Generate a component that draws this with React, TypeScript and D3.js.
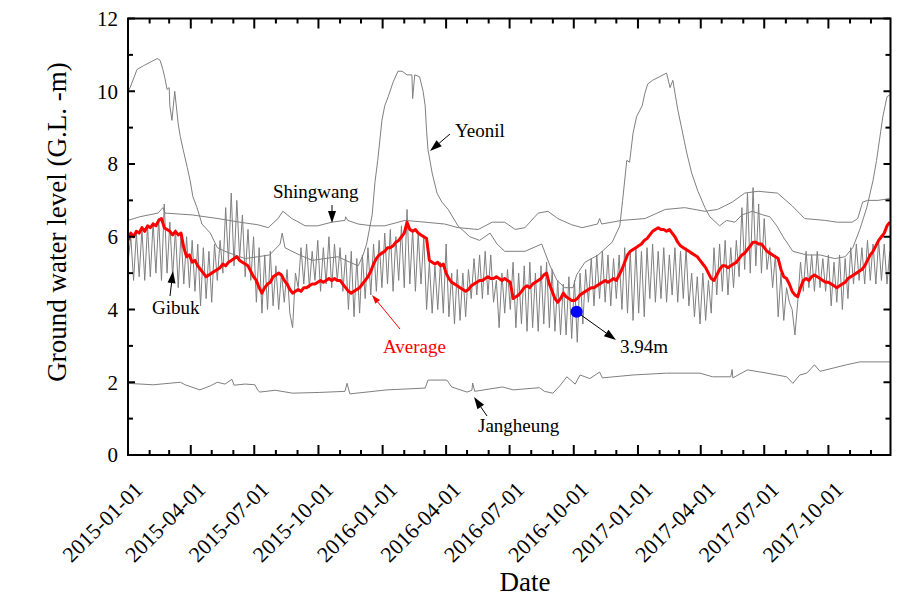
import React from 'react';
import * as d3 from 'd3';

// ---- data (day offsets are days since 2015-01-01) ----
const START = new Date(2015, 0, 1);
const END = new Date(2017, 11, 29);

const yTickValues = [0, 2, 4, 6, 8, 10, 12];

// Gibuk: one reading every 4 days from 2015-01-01
const gibukStep = 4;
const gibukValues = [
  5.3, 6.0, 4.8, 6.1, 4.9, 6.2, 4.8, 6.3, 4.9, 6.4,
  5.0, 6.5, 4.8, 6.9, 5.0, 6.4, 4.9, 6.2, 4.6, 6.1,
  4.7, 6.0, 4.6, 5.9, 4.5, 5.8, 4.1, 5.7, 4.3, 5.6,
  4.2, 5.8, 4.8, 5.9, 5.0, 6.8, 5.3, 7.2, 5.2, 7.0,
  5.4, 6.6, 4.9, 6.2, 4.8, 6.0, 4.2, 5.7, 3.9, 5.5,
  4.0, 5.6, 4.1, 5.2, 4.0, 5.0, 4.2, 5.1, 3.9, 3.5,
  5.0, 4.6, 5.7, 4.7, 5.8, 4.6, 5.6, 4.8, 5.9, 4.5,
  5.7, 4.7, 6.0, 4.6, 5.8, 4.8, 5.7, 4.5, 5.5, 4.0,
  5.6, 3.8, 5.4, 3.9, 5.5, 4.3, 5.7, 4.4, 5.8, 4.5,
  5.9, 4.6, 6.1, 4.7, 6.2, 4.5, 6.0, 4.8, 6.3, 4.6,
  6.75, 4.7, 6.2, 4.5, 6.1, 4.7, 6.0, 4.0, 5.3, 3.9,
  5.2, 4.0, 5.3, 3.9, 5.8, 3.8, 5.0, 3.6, 5.1, 3.7,
  5.0, 3.8, 5.1, 4.3, 5.4, 4.4, 5.5, 4.3, 5.6, 4.4,
  5.5, 4.2, 4.8, 3.5, 5.0, 3.9, 5.1, 4.0, 5.3, 3.5,
  5.0, 3.6, 5.2, 3.4, 5.3, 3.5, 5.0, 3.4, 5.2, 3.6,
  5.3, 3.5, 5.1, 3.4, 4.8, 3.3, 4.7, 3.3, 4.9, 3.2,
  4.8, 3.1, 5.0, 3.6, 5.1, 4.2, 5.4, 4.1, 5.5, 4.3,
  5.6, 4.2, 5.5, 4.1, 5.4, 4.3, 5.5, 4.0, 5.7, 3.9,
  5.6, 3.7, 5.7, 3.9, 5.6, 3.8, 5.7, 4.3, 5.8, 4.2,
  5.6, 4.3, 5.7, 4.2, 5.5, 4.4, 5.7, 4.2, 5.6, 4.3,
  5.7, 4.1, 5.0, 3.8, 4.9, 3.6, 5.0, 3.7, 4.8, 3.9,
  5.7, 4.4, 5.8, 4.5, 5.9, 4.4, 5.7, 4.6, 5.9, 4.9,
  6.8, 5.1, 7.2, 5.0, 7.35, 5.2, 6.9, 5.0, 6.5, 5.1,
  5.7, 4.6, 5.5, 3.8, 5.0, 3.7, 4.6, 4.2, 4.0, 3.3,
  4.2, 5.3, 4.5, 5.6, 4.6, 5.5, 4.5, 5.6, 4.6, 5.4,
  4.5, 5.5, 4.1, 5.3, 4.2, 5.5, 4.0, 5.4, 4.3, 5.7,
  4.7, 5.8, 4.8, 5.7, 4.7, 5.9, 4.8, 5.8, 4.7, 5.9,
  4.8, 5.8, 4.7, 5.6,
];

// Average: one value every 4 days from 2015-01-01
const averageStep = 4;
const averageValues = [
  5.9, 6.1, 6.0, 6.15, 6.1, 6.25, 6.15, 6.3, 6.25, 6.35,
  6.3, 6.45, 6.5, 6.25, 6.2, 6.15, 6.05, 6.15, 6.05, 6.1,
  5.7, 5.45, 5.5, 5.3, 5.35, 5.2, 5.1, 5.0, 4.9, 4.95,
  5.0, 5.05, 5.1, 5.15, 5.25, 5.2, 5.3, 5.35, 5.4, 5.45,
  5.35, 5.3, 5.25, 5.2, 5.05, 4.9, 4.8, 4.6, 4.45, 4.6,
  4.7, 4.75, 4.9, 4.95, 5.0, 4.95, 4.8, 4.7, 4.55, 4.45,
  4.5, 4.55, 4.5, 4.6, 4.6, 4.65, 4.7, 4.7, 4.75, 4.8,
  4.75, 4.8, 4.85, 4.8, 4.85, 4.8, 4.8, 4.7, 4.6, 4.5,
  4.45, 4.5, 4.55, 4.6, 4.7, 4.8, 4.9, 5.05, 5.25, 5.4,
  5.5, 5.55, 5.6, 5.7, 5.7, 5.75, 5.85, 5.9, 6.0, 6.1,
  6.4, 6.2, 6.15, 6.2, 6.1, 6.05, 6.0, 5.95, 5.35, 5.3,
  5.25, 5.3, 5.2, 5.25, 5.0, 4.85, 4.75, 4.7, 4.65, 4.6,
  4.55, 4.5, 4.55, 4.65, 4.7, 4.75, 4.8, 4.8, 4.85, 4.9,
  4.85, 4.85, 4.9, 4.85, 4.8, 4.85, 4.8, 4.75, 4.3, 4.35,
  4.4, 4.5, 4.6, 4.65, 4.6, 4.7, 4.75, 4.8, 4.85, 4.95,
  5.0, 4.7, 4.5, 4.3, 4.2, 4.3, 4.45, 4.35, 4.3, 4.25,
  4.25, 4.3, 4.4, 4.45, 4.5, 4.55, 4.6, 4.6, 4.65, 4.7,
  4.75, 4.8, 4.75, 4.8, 4.85, 4.8, 4.95, 5.1, 5.3, 5.5,
  5.6, 5.65, 5.7, 5.75, 5.8, 5.9, 5.95, 6.05, 6.15, 6.2,
  6.25, 6.2, 6.2, 6.15, 6.2, 6.1, 6.0, 5.85, 5.75, 5.7,
  5.65, 5.6, 5.55, 5.5, 5.45, 5.35, 5.25, 5.15, 5.0, 4.85,
  4.8, 4.95, 5.1, 5.2, 5.2, 5.15, 5.2, 5.25, 5.3, 5.4,
  5.5, 5.55, 5.65, 5.75, 5.85, 5.85, 5.8, 5.8, 5.7, 5.6,
  5.55, 5.5, 5.45, 5.4, 5.1, 4.9, 4.85, 4.7, 4.5, 4.4,
  4.35, 4.6, 4.8, 4.85, 4.8, 4.9, 4.95, 4.9, 4.85, 4.8,
  4.75, 4.75, 4.7, 4.65, 4.6, 4.65, 4.7, 4.75, 4.85, 4.9,
  4.95, 5.0, 5.05, 5.1, 5.2, 5.35, 5.5, 5.6, 5.75, 5.9,
  6.0, 6.1, 6.3, 6.4,
];

const yeonilDays = [
  0, 3, 13, 22, 32, 42, 46, 50, 53, 56, 59, 60, 63, 67, 72, 75, 79, 85, 89, 93,
  99, 106, 118, 128, 139, 153, 168, 186, 203, 218, 221, 225, 235, 246, 264, 282, 301, 318, 330, 337,
  342, 350, 354, 358, 364, 368, 373, 380, 387, 393, 400, 407, 408, 411, 418, 423, 426, 428, 430, 436,
  443, 450, 459, 473, 490, 504, 519, 529, 540, 552, 569, 593, 605, 615, 626, 638, 643, 655, 674, 694,
  705, 709, 715, 719, 724, 729, 737, 741, 745, 752, 762, 772, 777, 781, 788, 794, 801, 808, 817, 827,
  834, 848, 858, 870, 880, 895, 910, 920, 930, 939, 953, 973, 992, 1013, 1028, 1039, 1049, 1059, 1068, 1073,
  1082, 1088, 1092,
];
const yeonilValues = [
  10.0, 10.1, 10.6, 10.7, 10.8, 10.9, 10.85, 10.6, 10.35, 10.05, 10.1, 9.6, 9.2, 10.0, 9.1, 8.75, 8.4, 7.9, 7.55, 7.1,
  6.8, 6.35, 6.1, 5.7, 5.6, 5.5, 5.4, 5.45, 5.5, 5.8, 6.1, 5.7, 5.6, 5.5, 5.35, 5.4, 5.45, 5.3, 5.2, 5.5,
  5.8, 6.6, 7.5, 8.1, 9.2, 9.6, 9.85, 10.25, 10.55, 10.55, 10.45, 10.45, 9.8, 10.45, 10.4, 10.0, 9.6, 8.9, 8.4, 7.75,
  7.2, 6.95, 6.75, 6.3, 6.0, 5.9, 6.1, 5.8, 5.6, 5.6, 5.6, 5.8, 5.2, 4.8, 4.6, 4.6, 4.95, 5.3, 5.5, 5.85,
  6.3, 7.0, 8.1, 8.05, 8.85, 9.3, 9.6, 9.95, 10.2, 10.3, 10.4, 10.5, 10.1, 10.3, 9.5, 8.95, 8.3, 7.75, 7.25, 6.8,
  6.55, 6.3, 6.45, 6.4, 6.6, 6.7, 6.6, 6.55, 6.3, 6.0, 5.6, 5.5, 5.5, 5.4, 5.45, 5.7, 6.2, 6.8, 7.55, 8.1,
  9.3, 9.85, 9.9,
];

const shingwangDays = [
  0, 17, 43, 50, 53, 92, 129, 160, 186, 201, 215, 222, 235, 254, 272, 292, 311, 312, 315, 330,
  350, 368, 397, 426, 454, 473, 502, 522, 540, 555, 569, 588, 602, 616, 636, 651, 673, 676, 679, 708,
  741, 770, 798, 827, 845, 866, 884, 903, 931, 952, 970, 999, 1017, 1038, 1046, 1053, 1060, 1075, 1092,
];
const shingwangValues = [
  6.45, 6.55, 6.65, 6.8, 6.65, 6.6, 6.5, 6.4, 6.33, 6.25, 6.5, 6.7, 6.5, 6.3, 6.3, 6.4, 6.45, 6.55, 6.45, 6.35,
  6.3, 6.3, 6.45, 6.4, 6.35, 6.25, 6.2, 6.4, 6.4, 6.2, 6.25, 6.65, 6.7, 6.5, 6.33, 6.25, 6.35, 6.5, 6.35, 6.45,
  6.5, 6.75, 6.8, 6.7, 6.75, 6.95, 7.2, 7.25, 7.2, 6.85, 6.5, 6.45, 6.4, 6.4, 6.5, 6.95, 7.0, 7.0, 7.05,
];

const jangheungDays = [
  0, 36, 75, 82, 103, 118, 128, 139, 149, 152, 168, 182, 186, 189, 211, 236, 275, 311, 314, 318,
  371, 404, 426, 430, 457, 464, 486, 493, 494, 497, 537, 552, 590, 597, 609, 619, 629, 641, 648, 662,
  676, 680, 724, 772, 820, 838, 864, 866, 867, 888, 916, 944, 953, 963, 973, 984, 992, 1013, 1030, 1049,
  1088, 1092,
];
const jangheungValues = [
  1.97, 1.93, 2.0, 1.93, 1.79, 1.9, 2.0, 1.95, 2.08, 1.92, 1.95, 1.93, 1.78, 1.73, 1.78, 1.7, 1.72, 1.75, 1.97, 1.68,
  1.79, 1.82, 1.84, 2.06, 2.06, 1.87, 1.73, 1.78, 1.98, 1.75, 1.87, 1.79, 1.85, 1.75, 1.7, 1.9, 2.15, 1.95, 2.2, 2.1,
  2.28, 2.12, 2.2, 2.25, 2.25, 2.15, 2.15, 2.35, 2.12, 2.34, 2.25, 2.15, 1.97, 2.2, 2.25, 2.48, 2.3, 2.4, 2.48, 2.56,
  2.56, 2.56,
];

const minimumDay = 643;
const minimumValue = 3.94;

// ---- chart ----
const FONT = '"Liberation Serif", "Times New Roman", serif';

function dayDate(d: number) {
  return new Date(2015, 0, 1 + d);
}

function Arrow({ x1, y1, x2, y2, color = '#000', head = 12, half = 4 }: any) {
  const dx = x2 - x1;
  const dy = y2 - y1;
  const len = Math.sqrt(dx * dx + dy * dy);
  const ux = dx / len;
  const uy = dy / len;
  const bx = x2 - ux * head;
  const by = y2 - uy * head;
  const px = -uy * half;
  const py = ux * half;
  return (
    <g>
      <line x1={x1} y1={y1} x2={bx} y2={by} stroke={color} strokeWidth={1} />
      <polygon points={`${x2},${y2} ${bx + px},${by + py} ${bx - px},${by - py}`} fill={color} />
    </g>
  );
}

export default function App() {
  const left = 128;
  const right = 890.5;
  const top = 18.5;
  const bottom = 455;

  const x = d3.scaleTime().domain([START, END]).range([left, right]);
  const y = d3.scaleLinear().domain([0, 12]).range([bottom, top]);

  const line = d3
    .line<[number, number]>()
    .x((p) => x(dayDate(p[0])))
    .y((p) => y(p[1]));

  const stepSeries = (vals: number[], step: number) =>
    vals.map((v, i) => [i * step, v] as [number, number]);
  const pairSeries = (days: number[], vals: number[]) =>
    days.map((d, i) => [d, vals[i]] as [number, number]);

  const gibuk = stepSeries(gibukValues, gibukStep);
  const average = stepSeries(averageValues, averageStep);
  const yeonil = pairSeries(yeonilDays, yeonilValues);
  const shingwang = pairSeries(shingwangDays, shingwangValues);
  const jangheung = pairSeries(jangheungDays, jangheungValues);

  const majorX = x.ticks(d3.timeMonth.every(3) as any);
  const minorX = x.ticks(d3.timeMonth.every(1) as any).filter((t) => t.getMonth() % 3 !== 0);
  const yMinor = d3.range(1, 12, 2);
  const fmt = d3.timeFormat('%Y-%m-%d');

  const gray = '#7f7f7f';

  return (
    <svg
      width={917}
      height={601}
      style={{ position: 'absolute', left: 0, top: 0, display: 'block', background: '#fff' }}
      fontFamily={FONT}
    >
      <rect x={0} y={0} width={917} height={601} fill="#fff" />
      <defs>
        <clipPath id="plot">
          <rect x={left} y={top} width={right - left} height={bottom - top} />
        </clipPath>
      </defs>

      <g clipPath="url(#plot)" fill="none" strokeLinejoin="round">
        <path d={line(jangheung) || ''} stroke={gray} strokeWidth={1} />
        <path d={line(shingwang) || ''} stroke={gray} strokeWidth={1} />
        <path d={line(yeonil) || ''} stroke={gray} strokeWidth={1} />
        <path d={line(gibuk) || ''} stroke={gray} strokeWidth={1} />
        <path d={line(average) || ''} stroke="#ff0000" strokeWidth={3} />
      </g>
      <circle cx={x(dayDate(minimumDay))} cy={y(minimumValue)} r={6} fill="#0000ff" />

      {/* frame */}
      <rect x={left} y={top} width={right - left} height={bottom - top} fill="none" stroke="#000" strokeWidth={2} />

      {/* x ticks */}
      {majorX.map((t, i) => (
        <g key={'mx' + i}>
          <line x1={x(t)} x2={x(t)} y1={bottom} y2={bottom - 10} stroke="#000" strokeWidth={2} />
          <line x1={x(t)} x2={x(t)} y1={top} y2={top + 10} stroke="#000" strokeWidth={2} />
          <text
            transform={`translate(${x(t) + 16},${491}) rotate(-45)`}
            textAnchor="end"
            fontSize={22}
            fill="#000"
          >
            {fmt(t)}
          </text>
        </g>
      ))}
      {minorX.map((t, i) => (
        <g key={'nx' + i}>
          <line x1={x(t)} x2={x(t)} y1={bottom} y2={bottom - 5} stroke="#000" strokeWidth={2} />
          <line x1={x(t)} x2={x(t)} y1={top} y2={top + 5} stroke="#000" strokeWidth={2} />
        </g>
      ))}

      {/* y ticks */}
      {yTickValues.map((v) => (
        <g key={'my' + v}>
          <line x1={left} x2={left + 7} y1={y(v)} y2={y(v)} stroke="#000" strokeWidth={2} />
          <line x1={right} x2={right - 7} y1={y(v)} y2={y(v)} stroke="#000" strokeWidth={2} />
          <text x={118} y={y(v)} dy="0.35em" textAnchor="end" fontSize={21} fill="#000">
            {v}
          </text>
        </g>
      ))}
      {yMinor.map((v) => (
        <g key={'ny' + v}>
          <line x1={left} x2={left + 5} y1={y(v)} y2={y(v)} stroke="#000" strokeWidth={2} />
          <line x1={right} x2={right - 5} y1={y(v)} y2={y(v)} stroke="#000" strokeWidth={2} />
        </g>
      ))}

      {/* axis titles */}
      <text transform="translate(57,222) rotate(-90)" textAnchor="middle" dy="0.35em" fontSize={27} fill="#000">
        Ground water level (G.L. -m)
      </text>
      <text x={525} y={591} textAnchor="middle" fontSize={27} fill="#000">
        Date
      </text>

      {/* annotations */}
      <text x={455} y={137} fontSize={19} fill="#000">Yeonil</text>
      <Arrow x1={450} y1={134} x2={430} y2={151} />

      <text x={273} y={198} fontSize={19} fill="#000">Shingwang</text>
      <Arrow x1={332} y1={205} x2={332} y2={223} />

      <text x={152} y={314} fontSize={19} fill="#000">Gibuk</text>
      <Arrow x1={170} y1={296} x2={173} y2={271} />

      <text x={383} y={353} fontSize={19} fill="#ff0000">Average</text>
      <Arrow x1={400} y1={329} x2={372} y2={295} color="#ff0000" head={9} half={3} />

      <text x={620} y={353} fontSize={19} fill="#000">3.94m</text>
      <Arrow x1={581} y1={315} x2={616} y2={340} />

      <text x={478} y={432} fontSize={19} fill="#000">Jangheung</text>
      <Arrow x1={487} y1={416} x2={474} y2={397} />
    </svg>
  );
}
